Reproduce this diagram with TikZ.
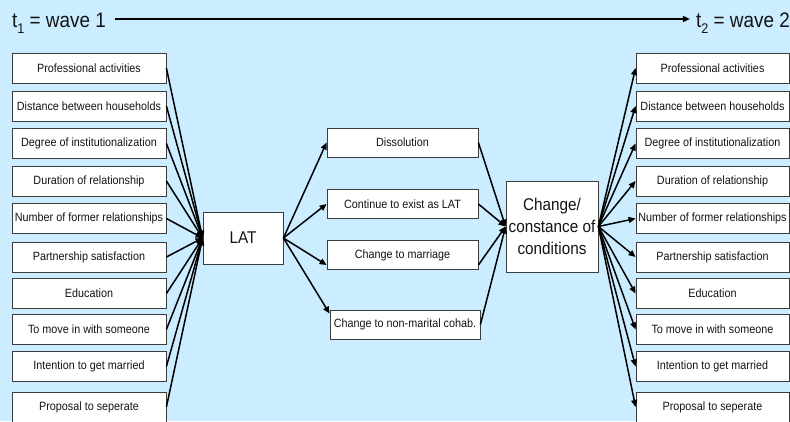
\documentclass[tikz,border=0pt]{standalone}
\usepackage{fontspec}
\setmainfont{Liberation Sans}[FakeStretch=0.9]
\usetikzlibrary{arrows.meta}
\definecolor{bg}{RGB}{204,236,255}
\definecolor{boxline}{RGB}{60,60,60}
\definecolor{txt}{RGB}{20,20,20}
\begin{document}
\begin{tikzpicture}[x=1pt,y=-1pt,
  box/.style={draw=boxline, line width=0.8pt, fill=white, text=txt, minimum width=154pt, minimum height=30pt, inner sep=0pt, font=\fontsize{12}{14}\selectfont},
  midbox/.style={box, minimum width=151pt, minimum height=29pt},
  bigbox/.style={draw=boxline, line width=0.8pt, fill=white, text=txt, inner sep=0pt, align=center},
  title/.style={inner sep=0pt, text=txt, font=\fontsize{21}{24}\selectfont},
  arr/.style={line width=1.5pt, -{Triangle[length=7pt,width=6pt]}}]
\fill[bg] (0,0) rectangle (790,421);
\useasboundingbox (0,0) rectangle (790,421);

% top time line
\node[title, anchor=base west] (t1) at (12,27) {t\raisebox{-6pt}{\fontsize{14}{14}\selectfont 1} = wave 1};
\node[title, anchor=base east] (t2) at (790,27) {t\raisebox{-6pt}{\fontsize{14}{14}\selectfont 2} = wave 2};
\draw[arr] ([shift={(9pt,8pt)}]t1.base east) -- ([shift={(-6pt,8pt)}]t2.base west);

% left boxes
\node[box] (L1) at (89,68) {Professional activities};
\node[box] (L2) at (89,106) {Distance between households};
\node[box] (L3) at (89,143.5) {Degree of institutionalization};
\node[box] (L4) at (89,181) {Duration of relationship};
\node[box] (L5) at (89,218.5) {Number of former relationships};
\node[box] (L6) at (89,257) {Partnership satisfaction};
\node[box] (L7) at (89,293.5) {Education};
\node[box] (L8) at (89,329.5) {To move in with someone};
\node[box] (L9) at (89,366.5) {Intention to get married};
\node[box] (L10) at (89,407) {Proposal to seperate};

% LAT
\node[bigbox, minimum width=80pt, minimum height=52pt, font=\fontsize{17}{20}\selectfont] (LAT) at (243,238) {LAT};

% middle boxes
\node[midbox] (D) at (402.5,142.5) {Dissolution};
\node[midbox] (C) at (402.5,204) {Continue to exist as LAT};
\node[midbox] (M) at (402.5,255) {Change to marriage};
\node[midbox, minimum width=150pt] (N) at (405,324.5) {Change to non-marital cohab.};

% change box
\node[bigbox, minimum width=92pt, minimum height=91pt, font=\fontsize{17}{22}\selectfont] (CH) at (552,226.5) {Change/\\constance of\\conditions};

% right boxes
\node[box, minimum width=153pt] (R1) at (712.5,68) {Professional activities};
\node[box, minimum width=153pt] (R2) at (712.5,106) {Distance between households};
\node[box, minimum width=153pt] (R3) at (712.5,143.5) {Degree of institutionalization};
\node[box, minimum width=153pt] (R4) at (712.5,181) {Duration of relationship};
\node[box, minimum width=153pt] (R5) at (712.5,218.5) {Number of former relationships};
\node[box, minimum width=153pt] (R6) at (712.5,257) {Partnership satisfaction};
\node[box, minimum width=153pt] (R7) at (712.5,293.5) {Education};
\node[box, minimum width=153pt] (R8) at (712.5,329.5) {To move in with someone};
\node[box, minimum width=153pt] (R9) at (712.5,366.5) {Intention to get married};
\node[box, minimum width=153pt] (R10) at (712.5,407) {Proposal to seperate};

% left arrows into LAT
\foreach \i in {1,...,10} {
  \draw[arr] (L\i.east) -- (LAT.west);
}

% LAT to outcomes
\draw[arr] (LAT.east) -- (D.west);
\draw[arr] (LAT.east) -- (C.west);
\draw[arr] (LAT.east) -- ([yshift=-10pt]M.west);
\draw[arr] (LAT.east) -- ([yshift=-4pt]N.north west);

% outcomes to change
\draw[arr] (D.east) -- (CH.west);
\draw[arr] (C.east) -- (CH.west);
\draw[arr] ([yshift=-10pt]M.east) -- (CH.west);
\draw[arr] (N.east) -- (CH.west);

% change to right boxes
\foreach \i in {1,...,10} {
  \draw[arr] (CH.east) -- (R\i.west);
}
\end{tikzpicture}
\end{document}
